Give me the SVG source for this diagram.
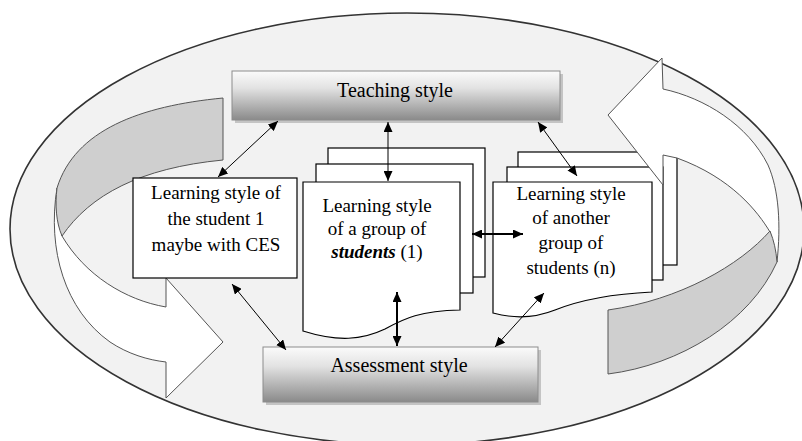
<svg xmlns="http://www.w3.org/2000/svg" width="802" height="441" viewBox="0 0 802 441">
<defs>
<linearGradient id="boxGrad" x1="0" y1="0" x2="0" y2="1">
<stop offset="0" stop-color="#fbfbfb"/>
<stop offset="0.35" stop-color="#e2e2e2"/>
<stop offset="1" stop-color="#8a8a8a"/>
</linearGradient>
<marker id="ah" markerUnits="userSpaceOnUse" markerWidth="11" markerHeight="9" refX="10" refY="4.5" orient="auto-start-reverse">
<path d="M0,0 L10,4.5 L0,9 Z" fill="#000"/>
</marker>
<style>
.lbl{font-family:"Liberation Serif","Times New Roman",serif;font-size:19px;fill:#000;text-anchor:middle}
.hdr{font-size:20px}
.page{fill:#fff;stroke:#000;stroke-width:1.2}
.box{fill:url(#boxGrad);stroke:#8c8c8c;stroke-width:1}
.shadow{fill:#c4c4c4}
.rib{fill:#fff;stroke:#555;stroke-width:1}
.ribg{fill:#cfcfcf;stroke:#555;stroke-width:1}
.con{stroke:#000;stroke-width:1;fill:none;marker-start:url(#ah);marker-end:url(#ah)}
.con2{stroke:#000;stroke-width:2;fill:none;marker-start:url(#ah);marker-end:url(#ah)}
</style>
</defs>
<ellipse id="background" cx="407" cy="229" rx="397" ry="216" fill="#f2f2f2" stroke="#333" stroke-width="1.6"/>

<g id="group1">
<rect class="page" x="328" y="148" width="157" height="129"/>
<rect class="page" x="316" y="164" width="157" height="129"/>
<path class="page" d="M303,182 H460 V310 C420,311 405,318 385,329 C362,340 338,342 303,331 Z"/>
<text class="lbl" x="377" y="212">Learning style</text>
<text class="lbl" x="377" y="235">of a group of</text>
<text class="lbl" x="377" y="258"><tspan font-style="italic" font-weight="bold">students</tspan> (1)</text>
</g>

<g id="groupn">
<rect class="page" x="518" y="152" width="159" height="113"/>
<rect class="page" x="507" y="167" width="156" height="113"/>
<path class="page" d="M493,182 H652 V292 C610,294 580,300 555,310 C535,318 515,319 493,313 Z"/>
<text class="lbl" x="571" y="200">Learning style</text>
<text class="lbl" x="571" y="224">of another</text>
<text class="lbl" x="571" y="249">group  of</text>
<text class="lbl" x="571" y="274">students (n)</text>
</g>

<g id="cycle-left">
<path class="rib" d="M57,188 C47,250 65,310 110,342 C128,354 148,360 166,362 L166,398 L223,342 L166,278 L166,307 C125,300 85,275 62,236 Z"/>
<path class="ribg" d="M223,98 L223,160 C140,168 90,195 62,236 C56,222 55,205 57,188 C75,130 140,106 223,98 Z"/>
</g>

<g id="cycle-right">
<path class="rib" d="M662,58 L663,89 C705,98 748,125 768,165 C779,190 781,225 777,262 L770,232 C758,212 732,178 677,158 L663,155 L663,185 L608,115 Z"/>
<path class="ribg" d="M770,231 C740,265 680,300 608,310 L608,374 C680,365 750,322 777,262 C776,250 774,241 770,231 Z"/>
</g>

<g id="teaching">
<rect class="shadow" x="235" y="74" width="328" height="49"/>
<rect class="box" x="232" y="71" width="328" height="49"/>
<text class="lbl hdr" x="395" y="97">Teaching style</text>
</g>

<g id="assessment">
<rect class="shadow" x="266" y="350" width="275" height="55"/>
<rect class="box" x="263" y="347" width="275" height="55"/>
<text class="lbl hdr" x="399" y="372">Assessment style</text>
</g>

<g id="student1">
<rect class="page" x="133" y="178" width="164" height="100"/>
<text class="lbl" x="216" y="199">Learning style of</text>
<text class="lbl" x="216" y="225">the student 1</text>
<text class="lbl" x="216" y="251">maybe with CES</text>
</g>

<g id="connectors">
<line class="con" x1="278" y1="121" x2="218" y2="177"/>
<line class="con" x1="388" y1="122" x2="388" y2="181"/>
<line class="con" x1="538" y1="122" x2="577" y2="176"/>
<line class="con" x1="232" y1="284" x2="286" y2="350"/>
<line class="con2" x1="397" y1="292" x2="397" y2="346"/>
<line class="con" x1="544" y1="293" x2="495" y2="347"/>
<line class="con2" x1="472" y1="234" x2="523" y2="234"/>
</g>
</svg>
